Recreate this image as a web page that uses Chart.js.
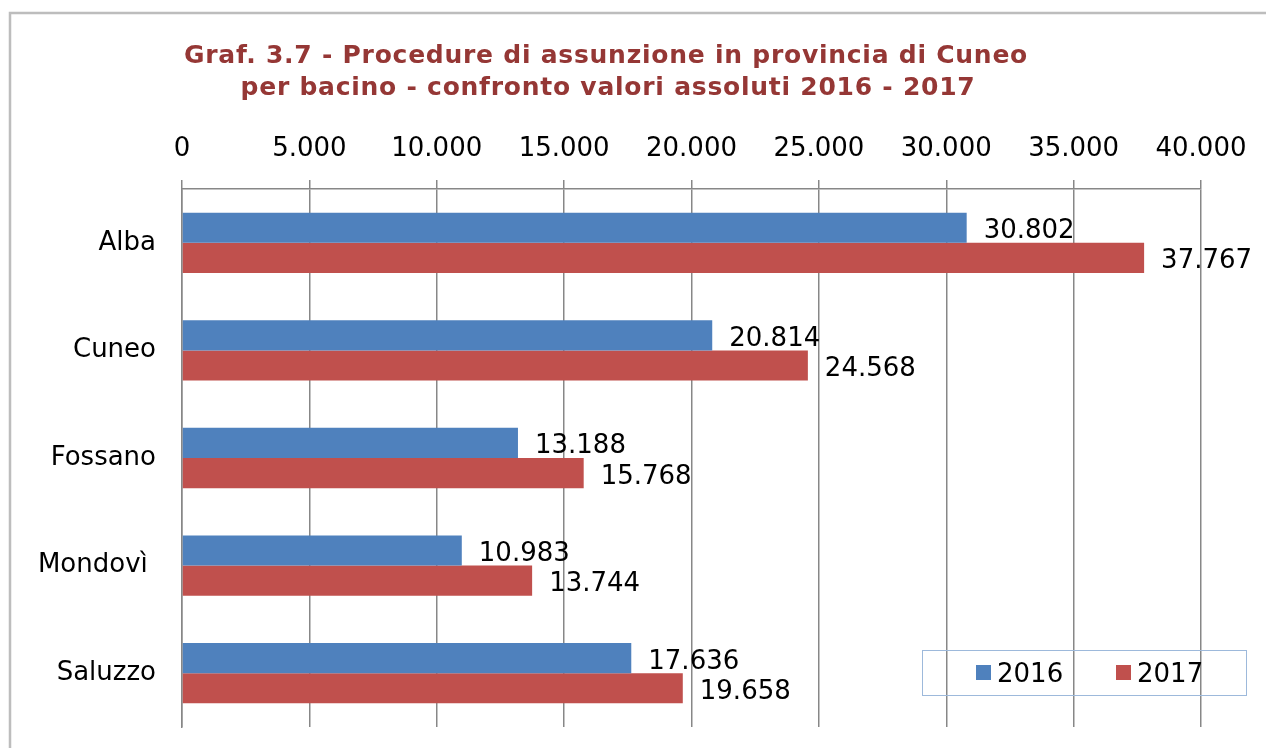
<!DOCTYPE html>
<html><head><meta charset="utf-8">
<script src="https://cdn.jsdelivr.net/npm/chart.js@4"></script>
<style>html,body{margin:0;padding:0;background:#fff}#wrap{width:1266px;height:748px;position:relative}canvas{display:block}</style>
</head><body><div id="wrap"><canvas id="c" width="1266" height="748"></canvas></div>
<script>
const categories = ['Alba', 'Cuneo', 'Fossano', 'Mondovì ', 'Saluzzo'];
const seriesLabels = ['2016', '2017'];
const values2016 = [30802, 20814, 13188, 10983, 17636];
const values2017 = [37767, 24568, 15768, 13744, 19658];
const axisMin = 0;
const axisMax = 40000;
const axisStep = 5000;
const titleLines = ['Graf. 3.7 - Procedure di assunzione in provincia di Cuneo', 'per bacino - confronto valori assoluti 2016 - 2017'];

const FONT = '"DejaVu Sans", Verdana, sans-serif';
const GRID = '#878787';
const fmt = v => String(v).replace(/\B(?=(\d{3})+(?!\d))/g, '.');

const framePlugin = {
  id: 'frame',
  beforeDraw(chart) {
    const ctx = chart.ctx;
    ctx.save();
    ctx.fillStyle = '#fff';
    ctx.fillRect(0, 0, chart.width, chart.height);
    ctx.strokeStyle = '#BDBDBD';
    ctx.lineWidth = 2.5;
    ctx.beginPath();
    ctx.moveTo(10, chart.height);
    ctx.lineTo(10, 13);
    ctx.lineTo(chart.width, 13);
    ctx.stroke();
    ctx.restore();
  }
};

const titlePlugin = {
  id: 'customTitle',
  afterDraw(chart) {
    const ctx = chart.ctx;
    ctx.save();
    ctx.fillStyle = '#953735';
    ctx.font = 'bold 25px ' + FONT;
    if ('letterSpacing' in ctx) ctx.letterSpacing = '0.75px';
    ctx.textAlign = 'center';
    ctx.textBaseline = 'alphabetic';
    ctx.fillText(titleLines[0], 606, 63);
    ctx.fillText(titleLines[1], 608, 95);
    ctx.restore();
  }
};

const labelPlugin = {
  id: 'valueLabels',
  afterDatasetsDraw(chart) {
    const ctx = chart.ctx;
    ctx.save();
    ctx.fillStyle = '#000';
    ctx.font = '26px ' + FONT;
    ctx.textAlign = 'left';
    ctx.textBaseline = 'alphabetic';
    chart.data.datasets.forEach((ds, di) => {
      chart.getDatasetMeta(di).data.forEach((bar, i) => {
        ctx.fillText(fmt(ds.data[i]), bar.x + 17, bar.y + 10.5);
      });
    });
    ctx.restore();
  }
};

const legendPlugin = {
  id: 'boxLegend',
  afterDraw(chart) {
    const ctx = chart.ctx;
    ctx.save();
    ctx.strokeStyle = '#9DB9DB';
    ctx.lineWidth = 1;
    ctx.strokeRect(922.5, 650.5, 324, 45);
    ctx.font = '26px ' + FONT;
    ctx.textBaseline = 'alphabetic';
    ctx.textAlign = 'left';
    chart.data.datasets.forEach((ds, i) => {
      const x0 = 976 + i * 140;
      ctx.fillStyle = ds.backgroundColor;
      ctx.fillRect(x0, 665, 15, 15);
      ctx.fillStyle = '#000';
      ctx.fillText(ds.label, x0 + 21, 682);
    });
    ctx.restore();
  }
};

new Chart(document.getElementById('c'), {
  type: 'bar',
  data: {
    labels: categories,
    datasets: [
      { label: seriesLabels[0], data: values2016, backgroundColor: '#4F81BD', borderWidth: 0 },
      { label: seriesLabels[1], data: values2017, backgroundColor: '#C0504D', borderWidth: 0 }
    ]
  },
  options: {
    indexAxis: 'y',
    responsive: false,
    animation: false,
    devicePixelRatio: 1,
    layout: { padding: { top: 0, left: 0, right: 65, bottom: 21 } },
    datasets: { bar: { categoryPercentage: 0.56, barPercentage: 1 } },
    plugins: { legend: { display: false }, title: { display: false }, tooltip: { enabled: false } },
    scales: {
      x: {
        position: 'top',
        min: axisMin,
        max: axisMax,
        ticks: {
          stepSize: axisStep,
          callback: v => fmt(v),
          color: '#000',
          font: { family: FONT, size: 26 },
          padding: 15,
          maxRotation: 0
        },
        grid: { color: GRID, lineWidth: 1.5, tickLength: 9, drawTicks: true },
        border: { display: true, color: GRID, width: 1.5 },
        afterFit(scale) { scale.height = 189; }
      },
      y: {
        ticks: { color: '#000', font: { family: FONT, size: 26 }, padding: 26 },
        grid: { display: false, drawTicks: false },
        border: { display: true, color: GRID, width: 1.5 },
        afterFit(scale) { scale.width = 182; scale.paddingTop = 0; scale.paddingBottom = 0; }
      }
    }
  },
  plugins: [framePlugin, titlePlugin, labelPlugin, legendPlugin]
});
</script>
</body></html>
